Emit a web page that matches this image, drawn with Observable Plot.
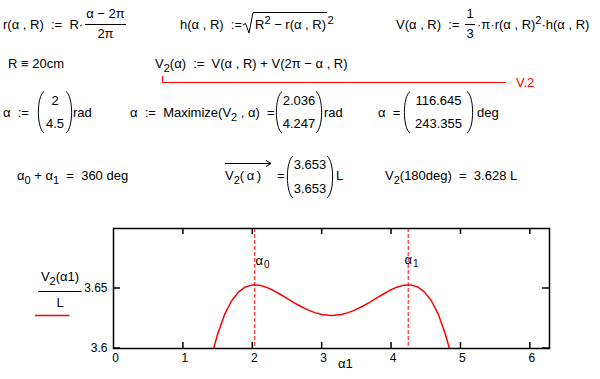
<!DOCTYPE html>
<html>
<head>
<meta charset="utf-8">
<script src="https://cdn.jsdelivr.net/npm/d3@7"></script>
<script src="https://cdn.jsdelivr.net/npm/@observablehq/plot@0.6"></script>
<style>
  html, body { margin: 0; padding: 0; background: #fff; }
  #wrap { position: relative; width: 600px; height: 379px; overflow: hidden; background: #fff;
          font-family: "Liberation Sans", Arial, sans-serif; }
  #math { position: absolute; left: 0; top: 0; }
  #chart { position: absolute; left: 0; top: 200px; }
  text { white-space: pre; }
</style>
</head>
<body>
<div id="wrap">
  <div id="chart"></div>
  <svg id="math" width="600" height="379"></svg>
</div>
<script>
// ---- data ----
const alphaSamples = [1.40, 1.45, 1.50, 1.60, 1.70, 1.80, 1.90, 2.00, 2.10, 2.20, 2.30, 2.40, 2.50, 2.60, 2.70, 2.80, 2.90, 3.00, 3.10, 3.1416,
                      3.1832, 3.2832, 3.3832, 3.4832, 3.5832, 3.6832, 3.7832, 3.8832, 3.9832, 4.0832, 4.1832, 4.2832, 4.3832, 4.4832, 4.5832, 4.6832, 4.7832, 4.8332, 4.8832];
const v2Samples    = [3.5897, 3.6016, 3.6119, 3.6282, 3.6396, 3.6470, 3.6513, 3.6530, 3.6528, 3.6511, 3.6485, 3.6452, 3.6417, 3.6382, 3.6350, 3.6322, 3.6299, 3.6284, 3.6277, 3.6276,
                      3.6277, 3.6284, 3.6299, 3.6322, 3.6350, 3.6382, 3.6417, 3.6452, 3.6485, 3.6511, 3.6528, 3.6530, 3.6513, 3.6470, 3.6396, 3.6282, 3.6119, 3.6016, 3.5897];
const alphaOpt   = [2.036, 4.247];        // rad (Maximize result)
const alphaStart = [2, 4.5];              // rad (guess)
const alphaDeg   = [116.645, 243.355];    // deg
const v2Opt      = [3.653, 3.653];        // L
const v2Half     = 3.628;                 // L at 180deg
const xTicks = [0, 1, 2, 3, 4, 5, 6];
const yTicks = [3.6, 3.65];
const yDomain = [3.6, 3.7];

const curve = alphaSamples.map((a, i) => ({a, v: v2Samples[i]}));

// ---- chart ----
const W = 600, H = 179, mL = 113, mR = 51, mT = 28, mB = 31;
const fw = W - mL - mR, fh = H - mT - mB, tk = 6;
const chart = Plot.plot({
  width: W, height: H, marginLeft: mL, marginRight: mR, marginTop: mT, marginBottom: mB,
  x: {domain: [0, 2 * Math.PI]},
  y: {domain: yDomain},
  style: {fontFamily: '"Liberation Sans", Arial, sans-serif', fontSize: "12px", color: "black", background: "white"},
  marks: [
    Plot.ruleX(alphaOpt, {stroke: "red", strokeWidth: 1, strokeDasharray: "4,2"}),
    Plot.line(curve, {x: "a", y: "v", stroke: "red", strokeWidth: 1.5, clip: true}),
    Plot.frame({stroke: "black", strokeWidth: 1.5}),
    Plot.ruleX(xTicks.slice(1), {insetTop: fh - tk, strokeWidth: 1.5}),
    Plot.ruleX(xTicks.slice(1), {insetBottom: fh - tk, strokeWidth: 1.5}),
    Plot.ruleY(yTicks, {insetRight: fw - 7, strokeWidth: 1.5, dy: -0.5}),
    Plot.ruleY(yTicks, {insetLeft: fw - 7, strokeWidth: 1.5, dy: -0.5}),
    Plot.axisX(xTicks, {tickSize: 0, tickPadding: 5, label: null, dx: 2, fontSize: 12}),
    Plot.axisY(yTicks, {tickSize: 0, tickPadding: 6, label: null, tickFormat: d => String(d), fontSize: 12}),
    Plot.text([alphaOpt[0]], {x: d => d, text: () => "α", frameAnchor: "top", dy: 27, dx: 4.5, fontSize: 13}),
    Plot.text([alphaOpt[0]], {x: d => d, text: () => "0", frameAnchor: "top", dy: 32, dx: 12, fontSize: 10}),
    Plot.text([alphaOpt[1]], {x: d => d, text: () => "α", frameAnchor: "top", dy: 26, dx: 0, fontSize: 13}),
    Plot.text([alphaOpt[1]], {x: d => d, text: () => "1", frameAnchor: "top", dy: 31, dx: 7.5, fontSize: 10})
  ]
});
document.getElementById("chart").appendChild(chart);

// ---- worksheet math (text) ----
function rich(str, size) {
  // _c => subscript char, ^c => superscript char
  let out = "", shift = 0;
  const segs = [];
  for (let i = 0; i < str.length; i++) {
    const c = str[i];
    if ((c === "_" || c === "^") && i + 1 < str.length) {
      segs.push({t: str[i + 1], s: c === "_" ? 4 : -5, small: true});
      i++;
    } else {
      if (segs.length && !segs[segs.length - 1].small) segs[segs.length - 1].t += c;
      else segs.push({t: c, s: 0, small: false});
    }
  }
  for (const g of segs) {
    const dy = g.s - shift; shift = g.s;
    const esc = g.t.replace(/&/g, "&amp;").replace(/</g, "&lt;");
    out += `<tspan dy="${dy}"${g.small ? ` font-size="${size - 2}"` : ""}>${esc}</tspan>`;
  }
  return out;
}
const parts = [];
function T(x, y, s, opt = {}) {
  const size = opt.size || 13;
  parts.push(`<text${opt.id ? ` id="${opt.id}"` : ""} x="${x}" y="${y}" font-size="${size}" fill="${opt.fill || "black"}" text-anchor="${opt.anchor || "start"}">${rich(s, size)}</text>`);
}
function P(d, stroke = "black", w = 1, id) {
  parts.push(`<path${id ? ` id="${id}"` : ""} d="${d}" fill="none" stroke="${stroke}" stroke-width="${w}"/>`);
}
function parens(xl, xr, y0, y1) {
  P(`M${xl + 5},${y0} C${xl - 2.5},${y0 + 5} ${xl - 2.5},${y1 - 5} ${xl + 5},${y1}`);
  P(`M${xr - 5},${y0} C${xr + 2.5},${y0 + 5} ${xr + 2.5},${y1 - 5} ${xr - 5},${y1}`);
}
function matrix(xl, xr, yTop, yBot, vals) {
  parens(xl, xr, yTop - 13, yBot + 5);
  T((xl + xr) / 2, yTop, String(vals[0]), {anchor: "middle"});
  T((xl + xr) / 2, yBot, String(vals[1]), {anchor: "middle"});
}

// row 1
T(3, 28.5, "r(α , R)  :=  R·");
T(105.5, 18, "α − 2π", {anchor: "middle"});
P("M85,24.5 H126");
T(105.5, 37.5, "2π", {anchor: "middle"});
T(180, 28.5, "h(α , R)  :=");
P("M243,25 L245.5,23.5 L249,33 L253,12.5 H338", "black", 1, "sqrtLine");
T(255, 28.5, "R^2 − r(α , R)", {id: "sqrtBody"});
T(338, 28.5, "^2", {id: "sqrtSup"});
T(396, 28.5, "V(α , R)  :=");
T(470, 18, "1", {anchor: "middle"});
P("M465,24.5 H475");
T(470, 37.5, "3", {anchor: "middle"});
T(477, 28.5, "·π·r(α , R)^2·h(α , R)");

// row 2
T(8, 68, "R ≡ 20cm");
T(155, 68, "V_2(α)  :=  V(α , R) + V(2π − α , R)");
P("M162.5,76 V82.5 H506", "red", 1);
T(516, 87, "V.2", {fill: "red"});

// row 3
T(3, 116.5, "α  :=");
matrix(39, 71, 104.5, 128, alphaStart);
T(73, 116.5, "rad");
T(130, 116.5, "α  :=  Maximize(V_2 , α)  =");
matrix(277, 321, 104.5, 128, alphaOpt.map(d => d.toFixed(3)));
T(324, 116.5, "rad");
T(378, 116.5, "α  =");
matrix(405, 472, 104.5, 128, alphaDeg.map(d => d.toFixed(3)));
T(477, 116.5, "deg");

// row 4
T(17, 180, "α_0 + α_1  =  360 deg");
T(225, 180, "V_2(\u2009α\u2009)");
P("M225,163.5 H271");
P("M266,160.5 L271,163.5 L266,166.5");
T(277, 180, "=");
matrix(288, 332, 169, 193, v2Opt.map(d => d.toFixed(3)));
T(336, 180, "L");
T(385, 180, `V_2(180deg)  =  ${v2Half.toFixed(3)} L`);

// chart side labels
T(60, 281, "V_2(α1)", {anchor: "middle"});
P("M38,291.5 H81.5");
T(60, 307, "L", {anchor: "middle"});
P("M35,315.5 H69.5", "red", 1.5);
T(338, 368, "α1");

const svg = document.getElementById("math");
svg.innerHTML = parts.join("");
// fit the radical's overline to its body
const body = svg.querySelector("#sqrtBody");
if (body && body.getBBox) {
  const b = body.getBBox();
  const end = b.x + b.width + 1;
  svg.querySelector("#sqrtLine").setAttribute("d", `M243,25 L245.5,23.5 L249,33 L253,12.5 H${end}`);
  svg.querySelector("#sqrtSup").setAttribute("x", end + 0.5);
}
</script>
</body>
</html>
